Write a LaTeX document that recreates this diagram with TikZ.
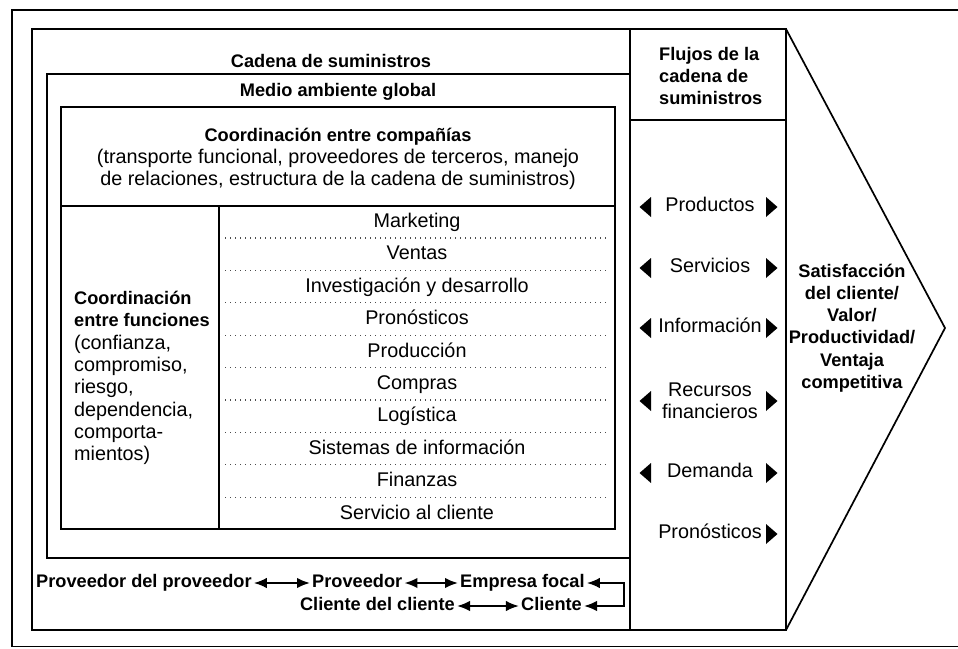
\documentclass[tikz,border=0pt]{standalone}
\usepackage{fontspec}
\setmainfont{Liberation Sans}
\usetikzlibrary{arrows.meta,calc}

\begin{document}
\begin{tikzpicture}[x=1pt,y=-1pt,
  frame/.style={line width=1.7pt},
  thin/.style={line width=1.5pt},
  txt/.style={font=\fontsize{19.8}{22.3}\selectfont, inner sep=0pt},
  btxt/.style={font=\fontsize{18.2}{22.3}\selectfont\bfseries, inner sep=0pt},
  one/.style={text height=13pt, text depth=4pt},
  dots/.style={line width=1.3pt, dash pattern=on 1.4pt off 3.6pt, black!70},
  dbl/.style={line width=2pt, {Latex[length=13pt,width=10.5pt]}-{Latex[length=13pt,width=10.5pt]}},
  ltri/.pic={\fill (6,-10) -- (-5.5,0) -- (6,10) -- cycle;},
  rtri/.pic={\fill (-6,-10) -- (5.5,0) -- (-6,10) -- cycle;}
]
\useasboundingbox (0,0) rectangle (958,648);

% outer frame (cut by the page on the right)
\draw[frame] (958,10) -- (12,10) -- (12,646.5) -- (958,646.5);

% supply chain box, flows column, chevron
\draw[frame] (32,29) rectangle (786,630);
\draw[frame] (630,29) -- (630,630);
\draw[frame] (630,120) -- (786,120);
\draw[frame] (786,29) -- (945,328) -- (786,630);

% global environment box
\draw[frame] (47,74) rectangle (630,558);

% coordination box
\draw[frame] (61,107) rectangle (615,529);
\draw[thin] (61,206) -- (615,206);
\draw[thin] (219,206) -- (219,529);

% titles
\node[btxt,one] (cadena) at (331,63) {Cadena de suministros};
\node[btxt,one] (medio) at (338,92) {Medio ambiente global};
\node[txt,align=center] (comp) at (338,159)
  {\fontsize{18.2}{22.3}\selectfont\textbf{Coordinación entre compañías}\\
   (transporte funcional, proveedores de terceros, manejo\\
   de relaciones, estructura de la cadena de suministros)};
\node[txt,align=left,anchor=west] (func) at (74,378)
  {{\fontsize{18.2}{22.3}\selectfont\textbf{Coordinación}}\\
   {\fontsize{18.2}{22.3}\selectfont\textbf{entre funciones}}\\
   (confianza,\\
   compromiso,\\
   riesgo,\\
   dependencia,\\
   comporta-\\
   mientos)};

% functional areas
\foreach \t [count=\i from 0] in {Marketing,Ventas,Investigación y desarrollo,Pronósticos,Producción,Compras,Logística,Sistemas de información,Finanzas,Servicio al cliente}{
  \node[txt,one] (area\i) at (417,{223+32.4*\i}) {\t};
}
\foreach \i in {0,...,8}{
  \draw[dots] (225,{238+32.4*\i}) -- (609,{238+32.4*\i});
}

% flows header
\node[btxt,align=left,anchor=west] (flujos) at (659,76)
  {Flujos de la\\cadena de\\suministros};

% flows
\node[txt,one] (prod) at (710,207) {Productos};
\node[txt,one] (serv) at (710,268) {Servicios};
\node[txt,one] (info) at (710,328) {Información};
\node[txt,align=center] (rec) at (710,401) {Recursos\\financieros};
\node[txt,one] (dem) at (710,473) {Demanda};
\node[txt,one] (pron) at (710,534) {Pronósticos};
\foreach \y in {207,268,328,401,473}{
  \pic at (645,\y) {ltri};
  \pic at (772,\y) {rtri};
}
\pic at (772,534) {rtri};

% chevron text
\node[btxt,align=center] (sat) at (852,328)
  {Satisfacción\\del cliente/\\Valor/\\Productividad/\\Ventaja\\competitiva};

% bottom chain
\node[btxt,one,anchor=west,inner xsep=2pt] (pp) at (34,583) {Proveedor del proveedor};
\node[btxt,one,anchor=west,inner xsep=2pt] (prov) at (310,583) {Proveedor};
\node[btxt,one,anchor=west,inner xsep=2pt] (ef) at (458,583) {Empresa focal};
\node[btxt,one,anchor=east,inner xsep=2pt] (cc) at (457,606) {Cliente del cliente};
\node[btxt,one,anchor=east,inner xsep=2pt] (cli) at (584,606) {Cliente};
\coordinate (turn) at (624,583);
\draw[dbl] (pp) -- (prov);
\draw[dbl] (prov) -- (ef);
\draw[dbl] (cc) -- (cli);
\draw[dbl] (ef.east) -- (turn) |- (cli.east);
\end{tikzpicture}
\end{document}
